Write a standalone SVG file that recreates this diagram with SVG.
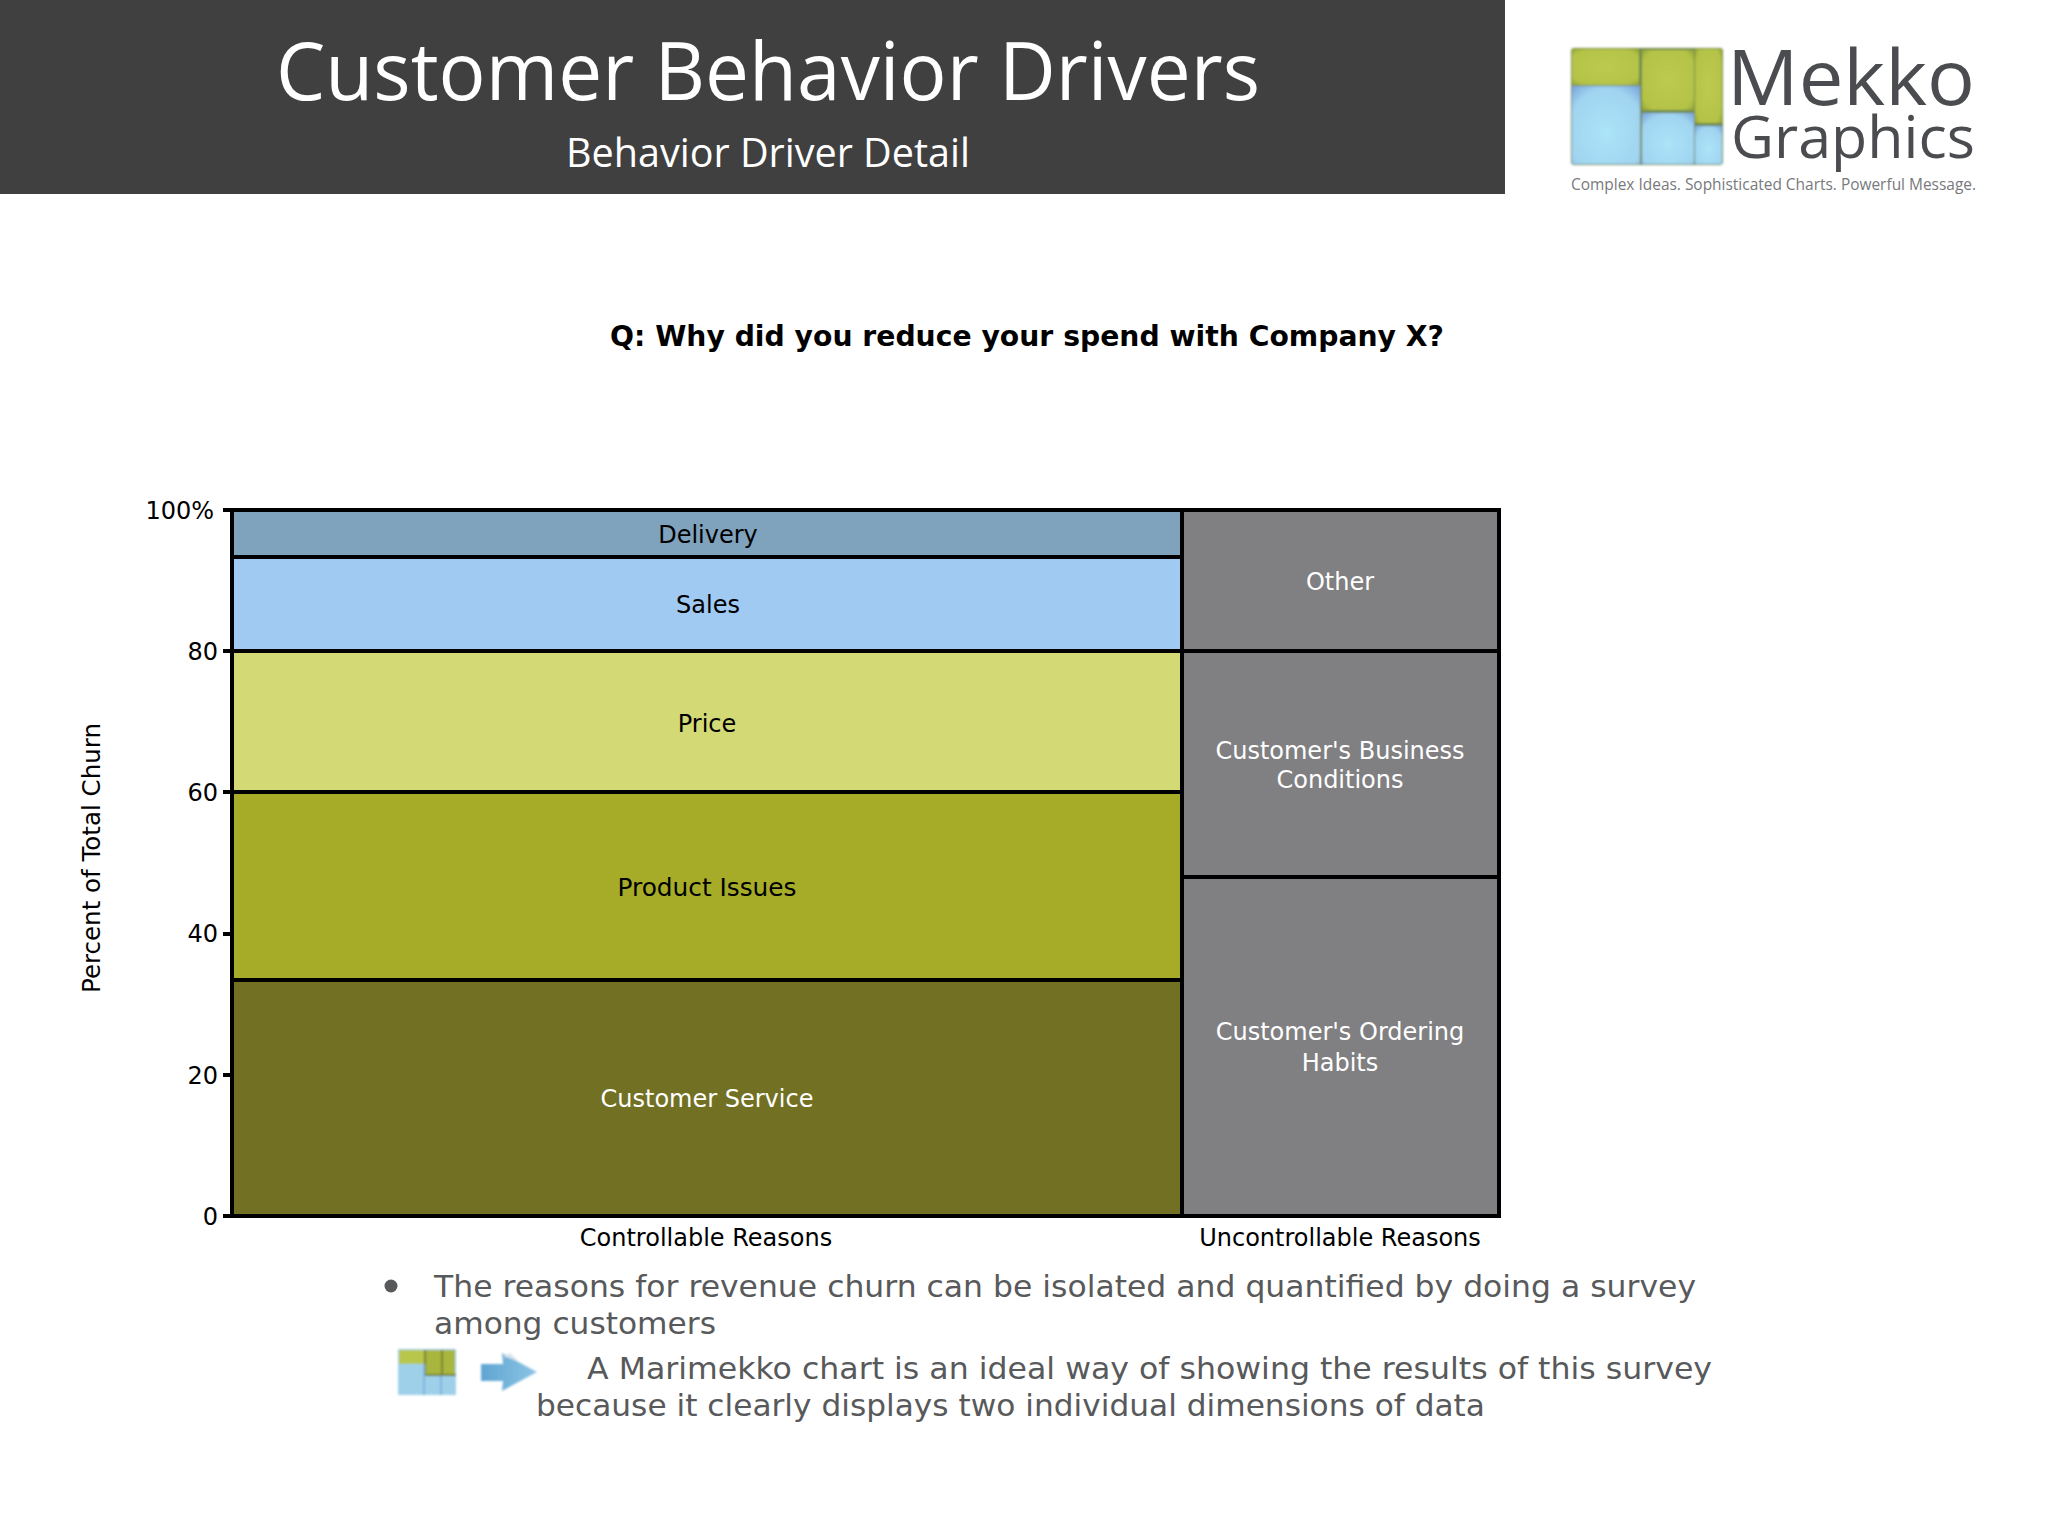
<svg xmlns="http://www.w3.org/2000/svg" width="2048" height="1536" viewBox="0 0 2048 1536">
<style>
.t{font-family:"DejaVu Sans",Verdana,sans-serif}
.c{font-size:24px;text-anchor:middle;fill:#000}
.w{font-size:24px;text-anchor:middle;fill:#fff}
.a{font-size:24px;text-anchor:end;fill:#000}
.b{font-size:31px;fill:#58595b}
.h{font-family:"Open Sans","Noto Sans",sans-serif;fill:#fff;text-anchor:middle}
.l{font-family:"Open Sans","Noto Sans",sans-serif;fill:#4a4c4f}
.s{stroke:#000;stroke-width:4}
</style>
<defs>
<radialGradient id="g1" cx=".5" cy=".5" r=".75"><stop offset="0" stop-color="#bccb52"/><stop offset=".75" stop-color="#b4c346"/><stop offset="1" stop-color="#8a9a30"/></radialGradient>
<radialGradient id="g2" cx=".5" cy=".6" r=".75"><stop offset="0" stop-color="#ace4f8"/><stop offset=".75" stop-color="#a0d4f0"/><stop offset="1" stop-color="#7ea8dc"/></radialGradient>
<linearGradient id="g3" x1="0" y1="0" x2="1" y2="0"><stop offset="0" stop-color="#5fa5d2"/><stop offset="1" stop-color="#8cc4e4"/></linearGradient>
<filter id="soft" x="-5%" y="-5%" width="110%" height="110%"><feGaussianBlur stdDeviation="1"/></filter>
</defs>
<rect width="2048" height="1536" fill="#fff"/>
<g id="header">
<rect width="1505" height="194" fill="#404040"/>
<text class="h" x="768" y="100" font-size="80" textLength="984" lengthAdjust="spacingAndGlyphs">Customer Behavior Drivers</text>
<text class="h" x="768" y="167" font-size="40" textLength="404" lengthAdjust="spacingAndGlyphs">Behavior Driver Detail</text>
</g>
<g id="logo">
<g filter="url(#soft)">
<rect x="1571" y="48" width="152" height="117" rx="3" fill="#6f8a50"/>
<rect x="1572" y="49" width="67" height="36" fill="url(#g1)"/>
<rect x="1642" y="50" width="52" height="60" fill="url(#g1)"/>
<rect x="1695" y="49" width="27" height="74" fill="url(#g1)"/>
<rect x="1572" y="86" width="68" height="78" fill="url(#g2)"/>
<rect x="1642" y="113" width="52" height="51" fill="url(#g2)"/>
<rect x="1695" y="126" width="27" height="38" fill="url(#g2)"/>
</g>
<text class="l" x="1727" y="105" font-size="77" textLength="248" lengthAdjust="spacingAndGlyphs">Mekko</text>
<text class="l" x="1731" y="158" font-size="58" textLength="244" lengthAdjust="spacingAndGlyphs">Graphics</text>
<text class="l" x="1571" y="190" font-size="16" style="fill:#77797c" textLength="405" lengthAdjust="spacingAndGlyphs">Complex Ideas. Sophisticated Charts. Powerful Message.</text>
</g>
<text id="question" class="t" x="1027" y="346" font-size="29" font-weight="bold" text-anchor="middle" textLength="834" lengthAdjust="spacingAndGlyphs">Q: Why did you reduce your spend with Company X?</text>
<g id="chart">
<g id="delivery"><rect class="s" x="232" y="510" width="950" height="47" fill="#7fa2bd"/><text class="t c" x="708" y="543">Delivery</text></g>
<g id="sales"><rect class="s" x="232" y="557" width="950" height="94" fill="#a0caf2"/><text class="t c" x="708" y="613">Sales</text></g>
<g id="price"><rect class="s" x="232" y="651" width="950" height="141" fill="#d3d975"/><text class="t c" x="707" y="732">Price</text></g>
<g id="product"><rect class="s" x="232" y="792" width="950" height="188" fill="#a6ac28"/><text class="t c" x="707" y="896" textLength="179" lengthAdjust="spacingAndGlyphs">Product Issues</text></g>
<g id="service"><rect class="s" x="232" y="980" width="950" height="236" fill="#727022"/><text class="t w" x="707" y="1107">Customer Service</text></g>
<g id="other"><rect class="s" x="1182" y="510" width="317" height="141" fill="#808082"/><text class="t w" x="1340" y="590">Other</text></g>
<g id="business"><rect class="s" x="1182" y="651" width="317" height="226" fill="#808082"/><text class="t w" x="1340" y="759">Customer's Business</text><text class="t w" x="1340" y="788">Conditions</text></g>
<g id="ordering"><rect class="s" x="1182" y="877" width="317" height="339" fill="#808082"/><text class="t w" x="1340" y="1040">Customer's Ordering</text><text class="t w" x="1340" y="1071">Habits</text></g>
</g>
<g id="axis">
<path class="s" fill="none" d="M223 510H232M223 651H232M223 792H232M223 934H232M223 1075H232M223 1216H232"/>
<text class="t a" x="214" y="519">100%</text>
<text class="t a" x="218" y="660">80</text>
<text class="t a" x="218" y="801">60</text>
<text class="t a" x="218" y="942">40</text>
<text class="t a" x="218" y="1084">20</text>
<text class="t a" x="218" y="1225">0</text>
<text class="t" font-size="24" text-anchor="middle" textLength="270" lengthAdjust="spacingAndGlyphs" transform="translate(100 858) rotate(-90)">Percent of Total Churn</text>
<text class="t c" x="706" y="1246">Controllable Reasons</text>
<text class="t c" x="1340" y="1246">Uncontrollable Reasons</text>
</g>
<g id="notes">
<circle cx="391" cy="1286" r="6.500" fill="#58595b"/>
<text class="t b" x="434" y="1297" textLength="1262" lengthAdjust="spacingAndGlyphs">The reasons for revenue churn can be isolated and quantified by doing a survey</text>
<text class="t b" x="434" y="1334" textLength="282" lengthAdjust="spacingAndGlyphs">among customers</text>
<text class="t b" x="587" y="1379" textLength="1125" lengthAdjust="spacingAndGlyphs">A Marimekko chart is an ideal way of showing the results of this survey</text>
<text class="t b" x="536" y="1416" textLength="949" lengthAdjust="spacingAndGlyphs">because it clearly displays two individual dimensions of data</text>
</g>
<g id="icons" filter="url(#soft)">
<rect x="398" y="1349" width="58" height="46" fill="#9fd0ea"/>
<rect x="399" y="1350" width="26" height="14" fill="#b8c64c"/>
<rect x="425" y="1350" width="30" height="24" fill="#a8b63e"/>
<path d="M425 1350V1376M442 1350V1374M425 1375H456" stroke="#748232" stroke-width="2" fill="none"/>
<path d="M424 1364V1395M441 1376V1395" stroke="#7db6da" stroke-width="2" fill="none"/>
<path d="M481 1364H503L502 1353L537 1372L502 1391L503 1381H481Z" fill="url(#g3)"/>
<path d="M503 1356L510 1353L518 1361Z" fill="#d8e4ec"/>
</g>
</svg>
